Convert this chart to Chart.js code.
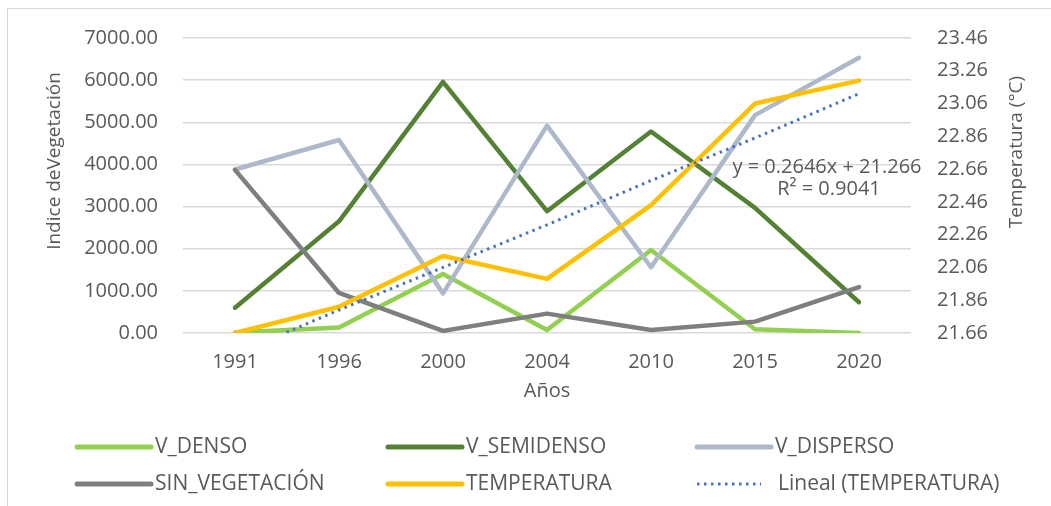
<!DOCTYPE html>
<html>
<head>
<meta charset="utf-8">
<script src="https://cdn.jsdelivr.net/npm/chart.js"></script>
<style>
  html, body { margin: 0; padding: 0; background: #fff; }
  #wrap { position: relative; width: 1051px; height: 506px; overflow: hidden; }
  #frame { position: absolute; left: 7px; top: 8px; width: 1100px; height: 600px; border: 1px solid #d9d9d9; }
  canvas { position: absolute; left: 0; top: 0; }
</style>
</head>
<body>
<div id="wrap">
  <div id="frame"></div>
  <canvas id="chart" width="1051" height="506"></canvas>
</div>
<script>
const years = ['1991', '1996', '2000', '2004', '2010', '2015', '2020'];

const vDenso = [10, 130, 1400, 70, 1970, 90, 0];
const vSemidenso = [600, 2650, 5960, 2890, 4780, 2970, 730];
const vDisperso = [3880, 4580, 940, 4920, 1560, 5170, 6530];
const sinVegetacion = [3870, 950, 50, 460, 70, 270, 1090];
const temperatura = [21.66, 21.82, 22.13, 21.99, 22.44, 23.06, 23.20];
// Excel linear trendline (y = 0.2646x + 21.266) as read at each year
const tendencia = [21.53, 21.80, 22.06, 22.32, 22.59, 22.85, 23.12];

const indiceTicks = [0, 1000, 2000, 3000, 4000, 5000, 6000, 7000];
const tempTicks = [21.66, 21.86, 22.06, 22.26, 22.46, 22.66, 22.86, 23.06, 23.26, 23.46];

const trendText = ['y = 0.2646x + 21.266', 'R\u00b2 = 0.9041'];

const TEXT = '#595959';
Chart.defaults.font.family = "'Open Sans', sans-serif";
Chart.defaults.color = TEXT;

function lineSet(label, data, color, axis, order) {
  return {
    label: label,
    data: data,
    yAxisID: axis,
    borderColor: color,
    backgroundColor: color,
    borderWidth: 4.5,
    pointRadius: 0,
    tension: 0,
    borderJoinStyle: 'round',
    borderCapStyle: 'round',
    order: order,
  };
}

const datasets = [
  lineSet('V_DENSO', vDenso, '#92D050', 'y', 6),
  lineSet('V_SEMIDENSO', vSemidenso, '#548235', 'y', 5),
  lineSet('V_DISPERSO', vDisperso, '#ADB9CA', 'y', 4),
  lineSet('SIN_VEGETACI\u00d3N', sinVegetacion, '#7F7F7F', 'y', 3),
  lineSet('TEMPERATURA', temperatura, '#FFC000', 'y1', 2),
  Object.assign(lineSet('Lineal (TEMPERATURA)', tendencia, '#4472C4', 'y1', 1), {
    borderWidth: 3,
    borderDash: [2.5, 4.5],
    borderCapStyle: 'butt',
  }),
];

// legend drawn in Excel's fixed 3-column grid
const legendGrid = {
  id: 'legendGrid',
  afterDraw(chart) {
    const ctx = chart.ctx;
    const colX = [77, 388, 697];
    const rowY = [447, 484];
    ctx.save();
    ctx.font = "21px 'Open Sans', sans-serif";
    ctx.textBaseline = 'middle';
    ctx.fillStyle = TEXT;
    chart.data.datasets.forEach((ds, i) => {
      const x = colX[i % 3];
      const y = rowY[Math.floor(i / 3)];
      const dotted = !!ds.borderDash;
      ctx.beginPath();
      ctx.strokeStyle = ds.borderColor;
      ctx.lineWidth = dotted ? 3 : 5;
      ctx.lineCap = dotted ? 'butt' : 'round';
      ctx.setLineDash(ds.borderDash || []);
      ctx.moveTo(x, y);
      ctx.lineTo(x + (dotted ? 64 : 74), y);
      ctx.stroke();
      ctx.setLineDash([]);
      ctx.fillText(ds.label, x + (dotted ? 81 : 78), y);
    });
    ctx.restore();
  }
};

// rotated axis titles and trendline equation
const extraText = {
  id: 'extraText',
  afterDraw(chart) {
    const ctx = chart.ctx;
    const area = chart.chartArea;
    const xs = chart.scales.x;
    const y1 = chart.scales.y1;
    ctx.save();
    ctx.fillStyle = TEXT;
    ctx.textAlign = 'center';
    ctx.textBaseline = 'middle';

    ctx.font = "19px 'Open Sans', sans-serif";
    ctx.save();
    ctx.translate(55, area.top + 123);
    ctx.rotate(-Math.PI / 2);
    ctx.fillText('Indice deVegetaci\u00f3n', 0, 0);
    ctx.restore();

    ctx.save();
    ctx.translate(1017, area.top + 114);
    ctx.rotate(-Math.PI / 2);
    ctx.fillText('Temperatura (\u00b0C)', 0, 0);
    ctx.restore();

    ctx.font = "20px 'Open Sans', sans-serif";
    const cx = xs.getPixelForValue(5) + 72;
    const cy = y1.getPixelForValue(22.66);
    ctx.fillText(trendText[0], cx, cy - 2);
    ctx.fillText(trendText[1], cx + 2, cy + 20);
    ctx.restore();
  }
};

new Chart(document.getElementById('chart'), {
  type: 'line',
  data: { labels: years, datasets: datasets },
  options: {
    responsive: false,
    animation: false,
    devicePixelRatio: 1,
    layout: { padding: { top: 32, left: 0, right: 0, bottom: 93 } },
    plugins: {
      legend: { display: false },
      tooltip: { enabled: false },
    },
    scales: {
      x: {
        offset: true,
        grid: { display: false },
        border: { display: false },
        ticks: { font: { size: 20 }, color: TEXT, padding: 9 },
        title: { display: true, text: 'A\u00f1os', font: { size: 20 }, color: TEXT, padding: { top: 0, bottom: 10 } },
        afterFit: (scale) => { scale.height = 80; },
      },
      y: {
        position: 'left',
        min: 0,
        max: 7000,
        afterBuildTicks: (scale) => { scale.ticks = indiceTicks.map(v => ({ value: v })); },
        ticks: { font: { size: 20 }, color: TEXT, padding: 25, callback: (v) => Number(v).toFixed(2) },
        grid: { color: '#D9D9D9', lineWidth: 1.5, drawTicks: false },
        border: { display: false },
        afterFit: (scale) => { scale.width = 183; },
      },
      y1: {
        position: 'right',
        min: 21.66,
        max: 23.46,
        afterBuildTicks: (scale) => { scale.ticks = tempTicks.map(v => ({ value: v })); },
        ticks: { font: { size: 20 }, color: TEXT, padding: 26, callback: (v) => Number(v).toFixed(2) },
        grid: { display: false, drawTicks: false },
        border: { display: false },
        afterFit: (scale) => { scale.width = 140; },
      },
    },
  },
  plugins: [legendGrid, extraText],
});
</script>
</body>
</html>
